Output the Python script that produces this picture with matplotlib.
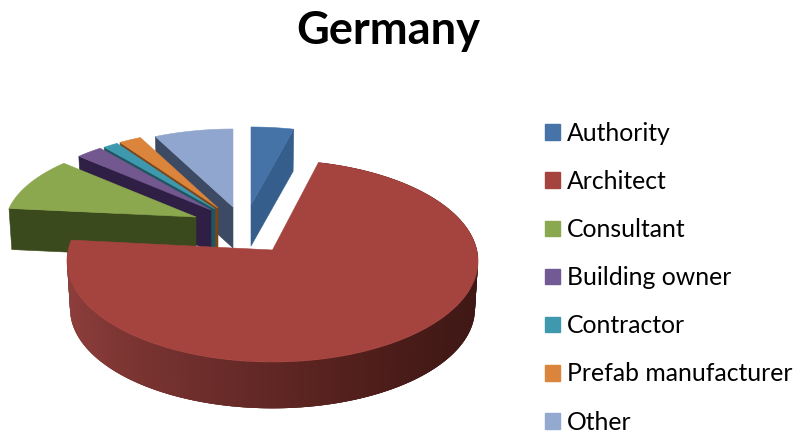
import numpy as np
import matplotlib
matplotlib.use("Agg")
import matplotlib.pyplot as plt
from matplotlib.patches import Patch, Polygon

# ================= DATA =================
LABELS = ["Authority", "Architect", "Consultant", "Building owner",
          "Contractor", "Prefab manufacturer", "Other"]
VALUES = [4.0, 72.6, 10.0, 2.5, 1.4, 2.1, 7.4]

# ================= STYLE =================
TOP_COLORS = ["#4572a7", "#a5443f", "#8ba84e", "#73588f", "#3f99ae", "#db843c", "#90a6ce"]
SIDE_COLORS = ["#355e8c", "#6a2a27", "#3a4a1c", "#2f1f45", "#1d5560", "#7a4518", "#3c4a63"]
LEGEND_COLORS = ["#4673a8", "#a5443f", "#8aa84e", "#725a95", "#3f99ae", "#db843c", "#93a9cf"]

# slice apex in pixels (explode), index matches LABELS
APEX = [(251, 205), (272.5, 250), (196, 217), (211, 210), (215, 209), (218, 208), (233, 207)]
PERSP = 0.109
BACK_A, BACK_B = 190, 86.5
FRONT_A, FRONT_B = 204.3, 99.8
BACK_DEPTH, FRONT_DEPTH = 41, 48
DEPTH_SCALE = 0.985

# shading of the big slice's wall, left to right
GRAD_X = [68, 130, 200, 270, 350, 420, 478]
GRAD_R = [0x8c, 0x7c, 0x6e, 0x62, 0x54, 0x47, 0x3f]
GRAD_G = [0x3e, 0x35, 0x2e, 0x28, 0x20, 0x1b, 0x18]
GRAD_B = [0x3c, 0x32, 0x2c, 0x25, 0x1d, 0x18, 0x15]


def project(theta, apex, a, b):
    # theta in degrees clockwise from the top of the pie
    u = np.sin(np.radians(theta))
    v = np.cos(np.radians(theta))
    w = 1 + PERSP * v
    return apex[0] + a * u / w, apex[1] - b * v / w


def lower(x, y, apex, depth):
    return apex[0] + DEPTH_SCALE * (x - apex[0]), apex[1] + depth + DEPTH_SCALE * (y - apex[1])


fig = plt.figure(figsize=(7.96, 4.34), dpi=100)
ax = fig.add_axes([0, 0, 1, 1])
ax.set_xlim(0, 796)
ax.set_ylim(434, 0)
ax.axis("off")

plt.rcParams["font.family"] = ["Lato", "DejaVu Sans"]

# ================= ANGLES =================
total = sum(VALUES)
edges = np.concatenate([[0], np.cumsum(VALUES) / total * 360])

# back slices first, going counter clockwise so each one covers the last wall
order = [0, 6, 5, 4, 3, 2]
for i in order:
    t = np.linspace(edges[i], edges[i + 1], 40)
    x, y = project(t, APEX[i], BACK_A, BACK_B)
    if i == 0:
        # wall on the right cut edge
        bx, by = lower(x[-1], y[-1], APEX[i], BACK_DEPTH)
        wall = [(x[-1], y[-1]), APEX[i], (APEX[i][0], APEX[i][1] + BACK_DEPTH), (bx, by)]
    else:
        # wall on the left cut edge
        bx, by = lower(x[0], y[0], APEX[i], BACK_DEPTH)
        wall = [(x[0], y[0]), APEX[i], (APEX[i][0], APEX[i][1] + BACK_DEPTH), (bx, by)]
    ax.add_patch(Polygon(wall, closed=True, fc=SIDE_COLORS[i], ec=SIDE_COLORS[i], lw=0.4))
    top = np.column_stack([np.append(x, APEX[i][0]), np.append(y, APEX[i][1])])
    ax.add_patch(Polygon(top, closed=True, fc=TOP_COLORS[i], ec=TOP_COLORS[i], lw=0.4))

# ================= ARCHITECT =================
i = 1
t = np.linspace(edges[i], edges[i + 1], 361)
x, y = project(t, APEX[i], FRONT_A, FRONT_B)
bx, by = lower(x, y, APEX[i], FRONT_DEPTH)
# quads overlap the next one by a step, else the antialiased seams show as stripes
for k in range(len(t) - 2, -1, -1):
    xm = (x[k] + x[k + 1]) / 2
    col = (np.interp(xm, GRAD_X, GRAD_R) / 255,
           np.interp(xm, GRAD_X, GRAD_G) / 255,
           np.interp(xm, GRAD_X, GRAD_B) / 255)
    k2 = min(k + 3, len(t) - 1)
    quad = [(x[k], y[k]), (x[k2], y[k2]), (bx[k2], by[k2]), (bx[k], by[k])]
    ax.add_patch(Polygon(quad, closed=True, fc=col, ec="none"))
top = np.column_stack([np.append(x, APEX[i][0]), np.append(y, APEX[i][1])])
ax.add_patch(Polygon(top, closed=True, fc=TOP_COLORS[i], ec=TOP_COLORS[i], lw=0.4))

# ================= TEXT =================
ax.text(388, 31, "Germany", fontsize=32.5, fontweight="bold", ha="center", va="center", color="black")

handles = [Patch(facecolor=c, edgecolor=c) for c in LEGEND_COLORS]
ax.legend(handles, LABELS, loc="upper left", bbox_to_anchor=(545 / 796, 1 - 122 / 434),
          frameon=False, fontsize=17.85, handlelength=0.6, handleheight=0.6,
          handletextpad=0.3, labelspacing=1.012, borderpad=0, borderaxespad=0,
          labelcolor="black")

fig.savefig("out.png", dpi=100)
